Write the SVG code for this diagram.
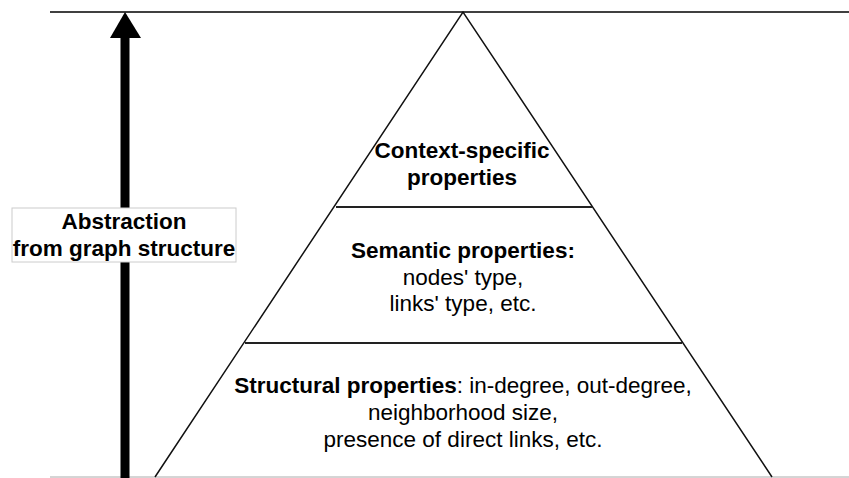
<svg xmlns="http://www.w3.org/2000/svg" width="849" height="478" viewBox="0 0 849 478">
<style>
.t{font-family:"Liberation Sans",Arial,sans-serif;font-size:22.5px;fill:#000;text-anchor:middle}
.b{font-weight:bold}
.edge{stroke:#111;stroke-width:1.5;fill:none}
.div{stroke:#222;stroke-width:2;fill:none}
</style>
<rect width="849" height="478" fill="#fff"/>
<g id="connectors">
<line x1="50" y1="12" x2="849" y2="12" stroke="#000" stroke-width="1.5"/>
<line x1="50" y1="477" x2="849" y2="477" stroke="#aaa" stroke-width="1"/>
<rect x="120.5" y="36" width="9" height="442" fill="#000"/>
<polygon points="125,12 110,38 141,38" fill="#000"/>
</g>
<g id="pyramid">
<polyline class="edge" points="155,477 463,12 772,477"/>
</g>
<g id="context">
<line class="div" x1="336" y1="207" x2="592" y2="207"/>
<text class="t b" x="462" y="158">Context-specific</text>
<text class="t b" x="462" y="185">properties</text>
</g>
<g id="semantic">
<line class="div" x1="245" y1="343" x2="682" y2="343"/>
<text class="t b" x="463" y="258">Semantic properties:</text>
<text class="t" x="463" y="285">nodes' type,</text>
<text class="t" x="463" y="311">links' type, etc.</text>
</g>
<g id="structural">
<text class="t" x="463" y="393"><tspan class="b">Structural properties</tspan>: in-degree, out-degree,</text>
<text class="t" x="463" y="420">neighborhood size,</text>
<text class="t" x="463" y="447">presence of direct links, etc.</text>
</g>
<g id="label">
<rect x="12" y="208" width="224" height="54" fill="#fff" stroke="#ccc" stroke-width="1"/>
<text class="t b" x="124" y="229">Abstraction</text>
<text class="t b" x="124" y="256">from graph structure</text>
</g>
</svg>
